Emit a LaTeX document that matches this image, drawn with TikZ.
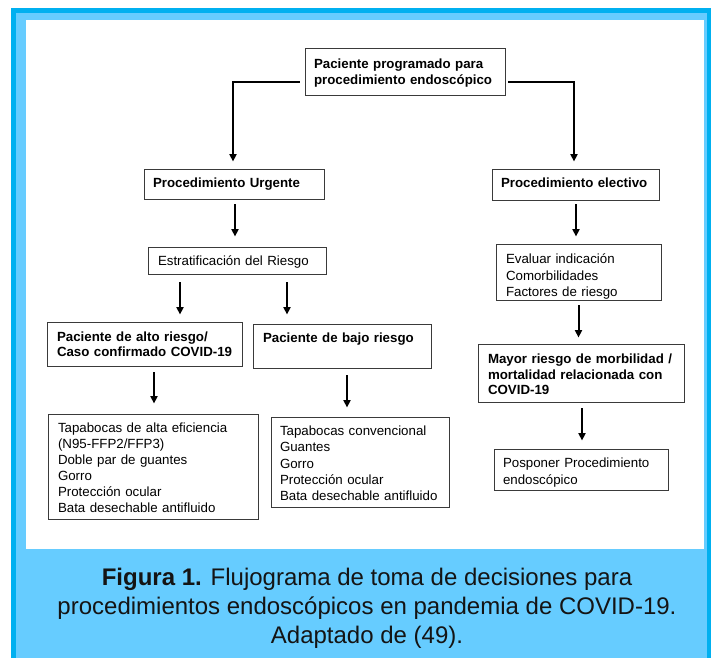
\documentclass[tikz,border=0pt]{standalone}
\usepackage{fontspec}
\setmainfont{Liberation Sans}
\usetikzlibrary{arrows.meta}
\definecolor{darkblue}{HTML}{00B0F0}
\definecolor{lightblue}{HTML}{66CCFF}
\definecolor{boxline}{HTML}{3A3A3A}
\definecolor{captext}{HTML}{141414}
\begin{document}
\begin{tikzpicture}[x=1pt,y=-1pt,
  box/.style={draw=boxline, line width=0.9pt, inner xsep=0pt, inner ysep=0pt, align=left, text=black, fill=white,
    font=\fontsize{13.3}{16}\selectfont},
  bbox/.style={box, font=\fontsize{13.3}{16}\selectfont\bfseries},
  sz/.style n args={3}{minimum width=#1pt, minimum height=#2pt, text width=#3pt},
  up/.style={text height=0pt, text depth=#1pt},
  down/.style={text height=#1pt, text depth=0pt},
  arr/.style={line width=2pt, -{Triangle[length=7.5pt,width=7pt]}},
  elbow/.style={line width=2pt, -{Triangle[length=7.5pt,width=7pt]}},
  captionstyle/.style={align=center, text=captext, font=\fontsize{24}{29}\selectfont}]
\useasboundingbox (0,0) rectangle (713,658);
\fill[white] (0,0) rectangle (713,658);
\fill[darkblue] (11,8) rectangle (711,658);
\fill[lightblue] (16,13) rectangle (707,658);
\fill[white] (26,20) rectangle (704,549);

% nodes
\node[bbox, sz={200}{47}{182}, up=5.6] (top) at (405,71.5) {Paciente programado para\\procedimiento endoscópico};
\node[bbox, sz={180}{30}{162}, down=7.4] (urg) at (234,184) {Procedimiento Urgente};
\node[bbox, sz={167}{31}{149}, down=6.4] (elec) at (575.5,184.5) {Procedimiento electivo};
\node[box, sz={178}{27}{158}, down=10.4] (estr) at (237,260.5) {Estratificación del Riesgo};
\node[box, sz={165}{56}{145}, up=16.6, font=\fontsize{13.3}{16.5}\selectfont] (eval) at (578.5,272) {Evaluar indicación\\Comorbilidades\\Factores de riesgo};
\node[bbox, sz={195}{44}{175}, up=4.6, font=\fontsize{13.3}{15}\selectfont\bfseries] (alto) at (144.5,344) {Paciente de alto riesgo/\\\mbox{Caso confirmado COVID-19}};
\node[bbox, sz={178}{44}{158}, up=6.6] (bajo) at (342,346) {Paciente de bajo riesgo};
\node[box, sz={178}{90}{160}, up=52.6, font=\fontsize{13.3}{16.25}\selectfont] (conv) at (360,462) {Tapabocas convencional\\Guantes\\Gorro\\Protección ocular\\\mbox{Bata desechable antifluido}};
\node[box, sz={210}{105}{190}, up=67.6] (alta) at (153,466.5) {Tapabocas de alta eficiencia\\(N95-FFP2/FFP3)\\Doble par de guantes\\Gorro\\Protección ocular\\Bata desechable antifluido};
\node[bbox, sz={206}{58}{186}, up=18.6, font=\fontsize{13.3}{15.5}\selectfont\bfseries] (mayor) at (581,373) {Mayor riesgo de morbilidad /\\mortalidad relacionada con\\COVID-19};
\node[box, sz={174}{41}{156}, up=3.6, font=\fontsize{13.3}{17}\selectfont] (pos) at (581,469.5) {Posponer Procedimiento\\endoscópico};

% elbow connectors
\draw[elbow, shorten >=7pt] ([xshift=-5pt,yshift=-10.5pt]top.west) -| ([xshift=-1pt]urg.north);
\draw[elbow, shorten >=7pt] ([xshift=3pt,yshift=-10.5pt]top.east) -| ([xshift=-1.5pt]elec.north);

% straight arrows
\draw[arr, shorten <=5pt, shorten >=10pt] ([xshift=1pt]urg.south) -- ([xshift=1pt]urg.south |- estr.north);
\draw[arr, shorten <=4pt, shorten >=7pt] ([xshift=0.5pt]elec.south) -- ([xshift=0.5pt]elec.south |- eval.north);
\draw[arr, shorten <=8pt, shorten >=7pt] ([xshift=-57pt]estr.south) -- ([xshift=-57pt]estr.south |- alto.north);
\draw[arr, shorten <=8pt, shorten >=9pt] ([xshift=50pt]estr.south) -- ([xshift=50pt]estr.south |- bajo.north);
\draw[arr, shorten <=6pt, shorten >=10pt] ([xshift=9.5pt]alto.south) -- ([xshift=9.5pt]alto.south |- alta.north);
\draw[arr, shorten <=7pt, shorten >=9pt] ([xshift=5pt]bajo.south) -- ([xshift=5pt]bajo.south |- conv.north);
\draw[arr, shorten <=5pt, shorten >=6pt] (eval.south) -- (eval.south |- mayor.north);
\draw[arr, shorten <=6pt, shorten >=8pt] ([xshift=1pt]mayor.south) -- ([xshift=1pt]mayor.south |- pos.north);

% caption
\node[captionstyle] (caption) at (367,608) {\textbf{Figura 1.} Flujograma de toma de decisiones para\\procedimientos endoscópicos en pandemia de COVID-19.\\Adaptado de (49).};
\end{tikzpicture}
\end{document}
